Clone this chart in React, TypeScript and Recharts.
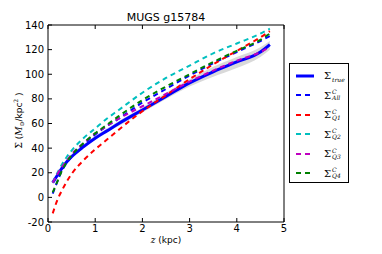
import {
  ComposedChart,
  Line,
  Area,
  XAxis,
  YAxis,
} from "recharts";

// radial samples (kpc)
const zVals = [0.1, 0.2, 0.3, 0.4, 0.5, 0.75, 1, 1.25, 1.5, 2, 2.5, 3, 3.5, 4, 4.5, 4.7];

const sigmaTrue = [12, 18, 24, 29, 33, 41, 48, 54, 60, 71, 82, 93, 102, 110, 118, 124];
const sigmaAll = [3, 13, 22, 28, 33, 43, 51, 58, 64, 77, 88, 99, 109, 118, 127, 131];
const sigmaQ1 = [-13, -2, 6, 13, 19, 30, 39, 47, 55, 70, 83, 96, 108, 119, 130, 135];
const sigmaQ2 = [12, 20, 27, 33, 38, 48, 56, 64, 71, 85, 97, 107, 117, 125, 133, 137];
const sigmaQ3 = [12, 19, 25, 30, 35, 44, 52, 58, 64, 74, 84, 94, 103, 111, 118, 122];
const sigmaQ4 = [4, 13, 22, 29, 34, 44, 52, 59, 66, 79, 90, 100, 110, 119, 128, 133];

// grey scatter band around the true profile
const bandLo = [11, 17, 23, 28, 32, 40, 47, 53, 58, 69, 80, 90, 98, 105, 114, 120];
const bandHi = [13, 20, 26, 31, 35, 43, 50, 56, 62, 73, 85, 96, 106, 114, 122, 127];

const xTicks = [0, 1, 2, 3, 4, 5];
const yTicks = [-20, 0, 20, 40, 60, 80, 100, 120, 140];

const data = zVals.map((z, i) => ({
  z,
  band: [bandLo[i], bandHi[i]],
  trueS: sigmaTrue[i],
  all: sigmaAll[i],
  q1: sigmaQ1[i],
  q2: sigmaQ2[i],
  q3: sigmaQ3[i],
  q4: sigmaQ4[i],
}));

const series = [
  { key: "all", color: "#0000ff", sup: "C", sub: "All" },
  { key: "q1", color: "#ff0000", sup: "C", sub: "Q1" },
  { key: "q2", color: "#00bfbf", sup: "C", sub: "Q2" },
  { key: "q3", color: "#bf00bf", sup: "C", sub: "Q3" },
  { key: "q4", color: "#008000", sup: "C", sub: "Q4" },
];

const FONT = "'DejaVu Sans', sans-serif";
const MATH = "'DejaVu Serif', serif";

function YLabel(props: any) {
  const vb = props.viewBox || { x: 0, y: 25, width: 48, height: 197 };
  const cx = 22;
  const cy = vb.y + vb.height / 2 - 3;
  return (
    <text
      x={cx}
      y={cy}
      transform={`rotate(-90, ${cx}, ${cy})`}
      textAnchor="middle"
      fontSize={9}
      fontFamily={MATH}
      fill="#000"
    >
      Σ (<tspan fontStyle="italic">M</tspan>
      <tspan fontSize={6} dy={2}>⊙</tspan>
      <tspan dy={-2} fontFamily={FONT}>/kpc</tspan>
      <tspan fontSize={6} dy={-4}>2</tspan>
      <tspan dy={4}> )</tspan>
    </text>
  );
}

function XLabel(props: any) {
  const vb = props.viewBox || { x: 48, y: 222, width: 236, height: 20 };
  return (
    <text
      x={vb.x + vb.width / 2}
      y={243}
      textAnchor="middle"
      fontSize={9}
      fontFamily={FONT}
      fill="#000"
    >
      <tspan fontStyle="italic" fontFamily={MATH}>z</tspan> (kpc)
    </text>
  );
}

function SigmaLabel({ sup, sub }: { sup?: string; sub: string }) {
  return (
    <span style={{ fontFamily: MATH, fontSize: 10, display: "inline-flex", alignItems: "center" }}>
      Σ
      <span
        style={{
          display: "inline-flex",
          flexDirection: "column",
          fontSize: 6,
          lineHeight: "6px",
          fontStyle: "italic",
          marginLeft: 1,
          marginTop: sup ? 0 : 8,
        }}
      >
        {sup && <span>{sup}</span>}
        <span>{sub}</span>
      </span>
    </span>
  );
}

function LegendBox() {
  const rows = [
    { color: "#0000ff", solid: true, sub: "true", sup: undefined as string | undefined },
    ...series.map((s) => ({ color: s.color, solid: false, sub: s.sub, sup: s.sup })),
  ];
  return (
    <div
      style={{
        position: "absolute",
        left: 289,
        top: 63,
        width: 60,
        height: 120,
        border: "1px solid #000",
        background: "#fff",
        boxSizing: "border-box",
        paddingTop: 2,
      }}
    >
      {rows.map((r, i) => (
        <div
          key={i}
          style={{ display: "flex", alignItems: "center", height: 19.5 }}
        >
          <svg width={31} height={6} style={{ marginLeft: 3 }}>
            <line
              x1={3}
              x2={21}
              y1={3}
              y2={3}
              stroke={r.color}
              strokeWidth={r.solid ? 3 : 2}
              strokeDasharray={r.solid ? undefined : "5 4"}
            />
          </svg>
          <SigmaLabel sup={r.sup} sub={r.sub} />
        </div>
      ))}
    </div>
  );
}

export default function App() {
  return (
    <div
      style={{
        position: "absolute",
        left: 0,
        top: 0,
        width: 382,
        height: 254,
        background: "#fff",
        fontFamily: FONT,
      }}
    >
      <div
        style={{
          position: "absolute",
          left: 48,
          width: 236,
          top: 11,
          textAlign: "center",
          fontSize: 11,
          color: "#000",
        }}
      >
        MUGS g15784
      </div>
      <ComposedChart
        width={382}
        height={254}
        data={data}
        margin={{ top: 20, right: 94, bottom: 12, left: 8 }}
      >
        <XAxis
          xAxisId="b"
          dataKey="z"
          type="number"
          domain={[0, 5]}
          ticks={xTicks}
          height={20}
          tickSize={-4}
          tickMargin={7}
          stroke="#000"
          tick={{ fill: "#000", fontSize: 10, fontFamily: FONT }}
          label={<XLabel />}
        />
        <XAxis
          xAxisId="t"
          dataKey="z"
          type="number"
          orientation="top"
          domain={[0, 5]}
          ticks={xTicks}
          height={5}
          tickSize={-4}
          stroke="#000"
          tickFormatter={() => ""}
        />
        <YAxis
          yAxisId="l"
          type="number"
          domain={[-20, 140]}
          ticks={yTicks}
          width={40}
          tickSize={-4}
          tickMargin={8}
          stroke="#000"
          tick={{ fill: "#000", fontSize: 10, fontFamily: FONT }}
          label={<YLabel />}
        />
        <YAxis
          yAxisId="r"
          orientation="right"
          type="number"
          domain={[-20, 140]}
          ticks={yTicks}
          width={4}
          tickSize={-4}
          stroke="#000"
          tickFormatter={() => ""}
        />
        <Area
          xAxisId="b"
          yAxisId="l"
          dataKey="band"
          type="monotone"
          stroke="none"
          fill="#cfcfcf"
          fillOpacity={0.8}
          isAnimationActive={false}
        />
        <Line
          xAxisId="b"
          yAxisId="l"
          dataKey="trueS"
          type="monotone"
          stroke="#0000ff"
          strokeWidth={3}
          dot={false}
          isAnimationActive={false}
        />
        {series.map((s) => (
          <Line
            key={s.key}
            xAxisId="b"
            yAxisId="l"
            dataKey={s.key}
            type="monotone"
            stroke={s.color}
            strokeWidth={2}
            strokeDasharray="5 4"
            dot={false}
            isAnimationActive={false}
          />
        ))}
      </ComposedChart>
      <LegendBox />
    </div>
  );
}
